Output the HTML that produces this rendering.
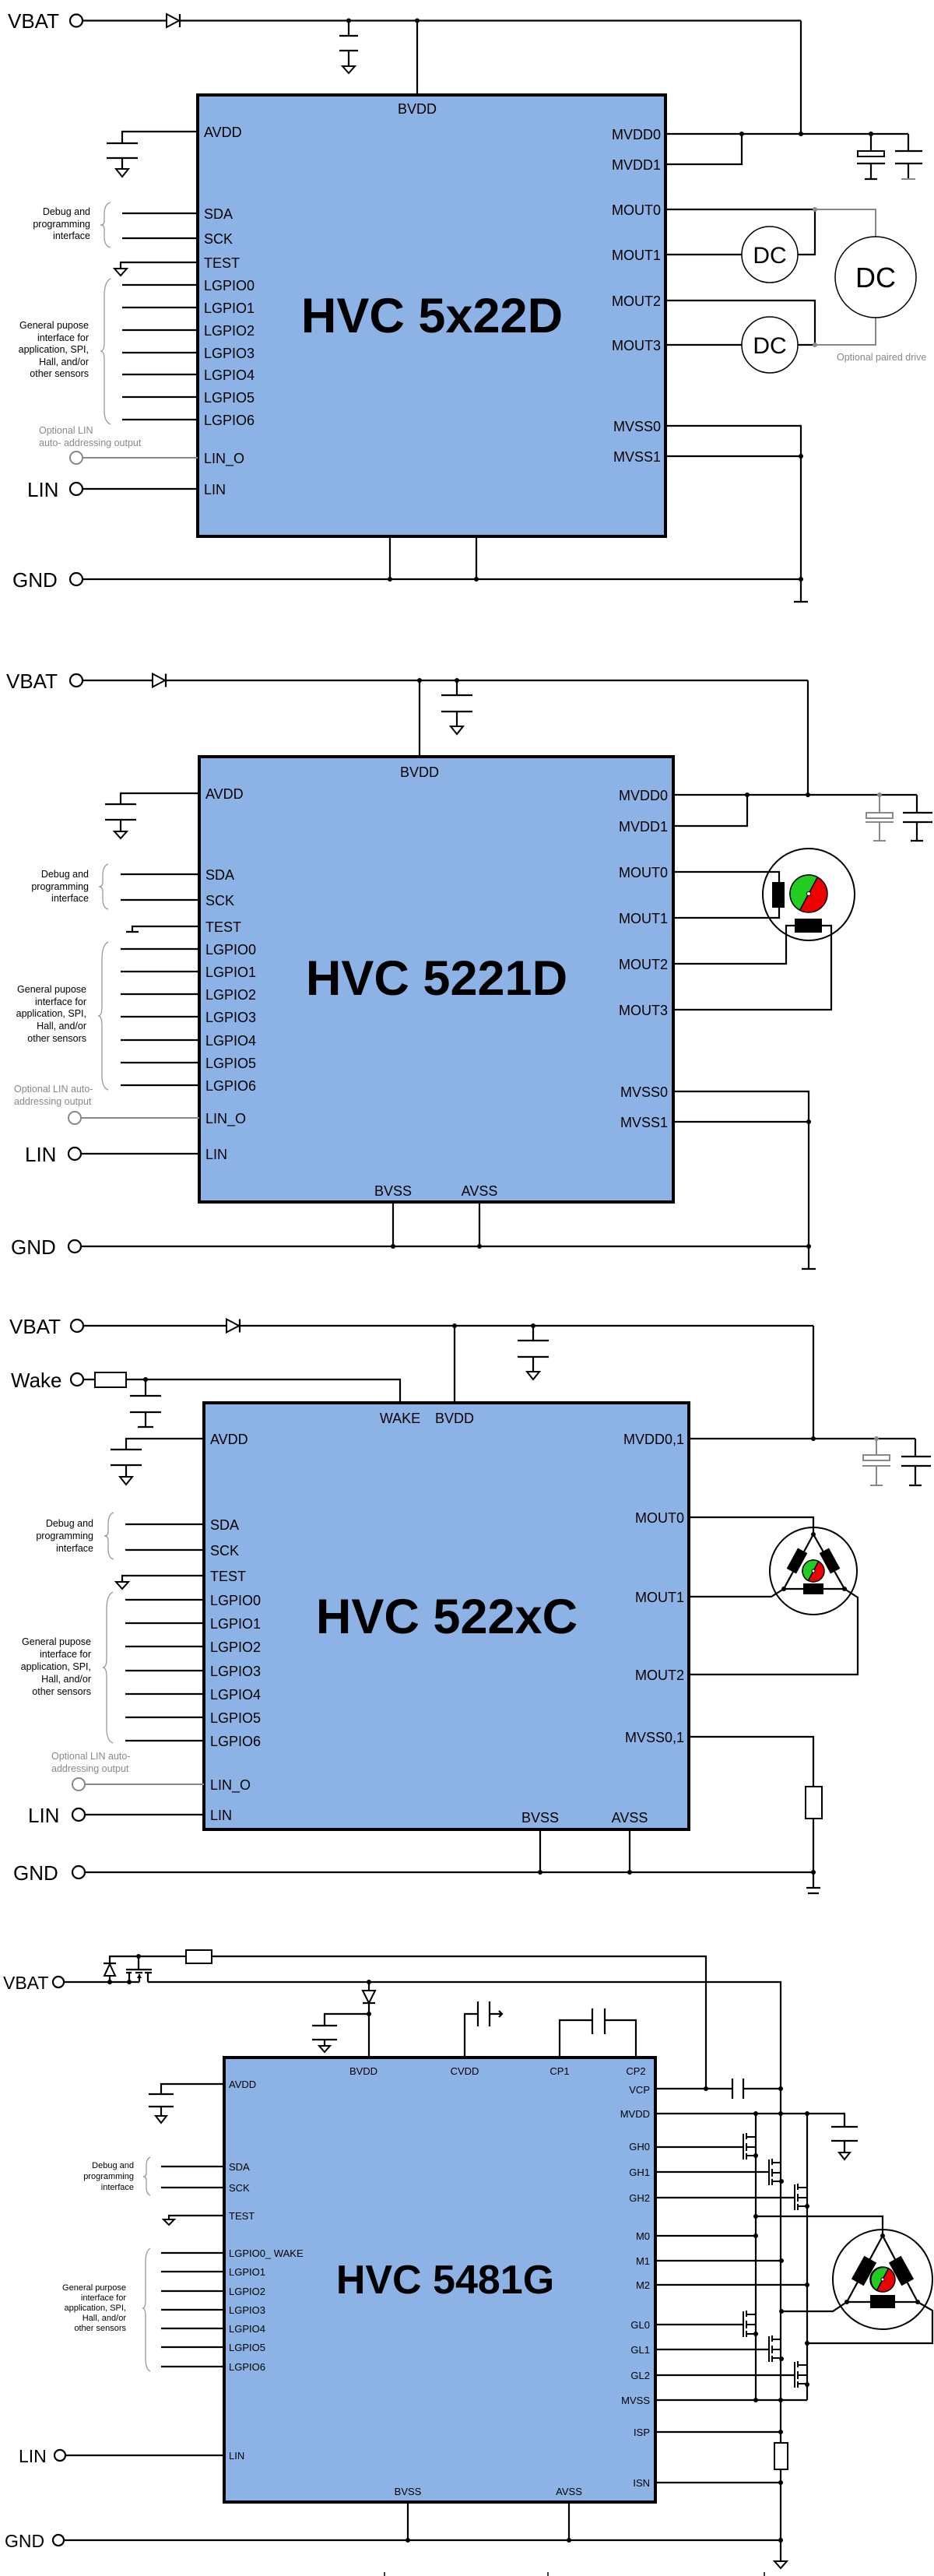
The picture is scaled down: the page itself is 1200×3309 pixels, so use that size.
<!DOCTYPE html>
<html><head><meta charset="utf-8"><style>
html,body{margin:0;padding:0;background:#fff}
svg{display:block}
text{font-family:"Liberation Sans",Arial,sans-serif;fill:#000}
.w{stroke:#000;stroke-width:2.2;fill:none}
.g{stroke:#888;stroke-width:2;fill:none}
.chip{fill:#8db3e6;stroke:#000;stroke-width:4}
.pl{font-size:18px}
.pr{font-size:18px;text-anchor:end}
.sm{font-size:13px}
.smr{font-size:13px;text-anchor:end}
.note{font-size:12.5px;text-anchor:end}
.gn{font-size:12.5px;fill:#888}
.big{font-size:26px}
.title{font-size:63px;font-weight:bold;text-anchor:middle}
.d{fill:#000}
.oc{fill:#fff;stroke:#000;stroke-width:2.2}
.br{stroke:#999;stroke-width:1.3;fill:none}
</style></head><body>
<svg width="1200" height="3309" viewBox="0 0 1200 3309" xmlns="http://www.w3.org/2000/svg">

<!-- ============ SECTION 1 ============ -->
<text x="10" y="36" class="big">VBAT</text>
<line class="w" x1="106" y1="26.5" x2="1029" y2="26.5"/>
<circle class="oc" cx="98" cy="26.5" r="8"/>
<polygon points="214,18 214,35 230,26.5" fill="#fff" stroke="#000" stroke-width="2"/>
<line class="w" x1="231" y1="18" x2="231" y2="35"/>
<circle class="d" cx="448" cy="26.5" r="3"/><circle class="d" cx="536" cy="26.5" r="3"/>
<path class="w" d="M448 26.5V46M436 46H460M436 65H460M448 65V85"/>
<polygon points="440,85 456,85 448,94" fill="#fff" stroke="#000" stroke-width="2"/>
<line class="w" x1="536" y1="26.5" x2="536" y2="122"/>
<line class="w" x1="1029" y1="26.5" x2="1029" y2="172"/>
<rect class="chip" x="254" y="122" width="601" height="567"/>
<text x="536" y="146" class="pl" text-anchor="middle">BVDD</text>
<text x="555" y="427" class="title">HVC 5x22D</text>
<path class="w" d="M254 169H157V184M137 184H177M137 203H177M157 203V217"/>
<polygon points="149,217 165,217 157,227" fill="#fff" stroke="#000" stroke-width="2"/>
<text x="262" y="176" class="pl">AVDD</text>
<path class="w" d="M157 274H254M157 306H254M157 366H254M157 395H254M157 424H254M157 453H254M157 481H254M157 510H254M157 539H254"/>
<path class="w" d="M254 337H155V345"/>
<polygon points="147,345 163,345 155,354" fill="#fff" stroke="#000" stroke-width="2"/>
<text x="262" y="281" class="pl">SDA</text><text x="262" y="313" class="pl">SCK</text><text x="262" y="344" class="pl">TEST</text>
<text x="262" y="373" class="pl">LGPIO0</text><text x="262" y="402" class="pl">LGPIO1</text><text x="262" y="431" class="pl">LGPIO2</text><text x="262" y="460" class="pl">LGPIO3</text><text x="262" y="488" class="pl">LGPIO4</text><text x="262" y="517" class="pl">LGPIO5</text><text x="262" y="546" class="pl">LGPIO6</text>
<text x="262" y="595" class="pl">LIN_O</text><text x="262" y="635" class="pl">LIN</text>
<path class="br" d="M142 260Q134 262 134 275V284Q134 289 129 289Q134 289 134 294V304Q134 316 142 318"/>
<text x="116" y="276" class="note">Debug and</text><text x="116" y="292" class="note">programming</text><text x="116" y="307" class="note">interface</text>
<path class="br" d="M142 358Q134 362 134 380V440Q134 451 129 451Q134 451 134 462V527Q134 542 142 545"/>
<text x="114" y="422" class="note">General pupose</text><text x="114" y="438" class="note">interface for</text><text x="114" y="453" class="note">application, SPI,</text><text x="114" y="469" class="note">Hall, and/or</text><text x="114" y="484" class="note">other sensors</text>
<text x="50" y="557" class="gn">Optional LIN</text><text x="50" y="573" class="gn">auto- addressing output</text>
<line class="g" x1="106" y1="588" x2="254" y2="588"/>
<circle cx="98" cy="588" r="8" fill="#fff" stroke="#888" stroke-width="2"/>
<text x="35" y="638" class="big">LIN</text>
<line class="w" x1="106" y1="628" x2="254" y2="628"/>
<circle class="oc" cx="98" cy="628" r="8"/>
<text x="16" y="754" class="big">GND</text>
<line class="w" x1="106" y1="744" x2="1029" y2="744"/>
<circle class="oc" cx="98" cy="744" r="8"/>
<path class="w" d="M501 689V744M612 689V744"/>
<circle class="d" cx="501" cy="744" r="3"/><circle class="d" cx="612" cy="744" r="3"/><circle class="d" cx="1029" cy="744" r="3"/>
<path class="w" d="M855 172H1167M855 211H953V172M855 547H1029V773M855 586H1029M1020 773H1038"/>
<circle class="d" cx="953" cy="172" r="3"/><circle class="d" cx="1029" cy="172" r="3"/><circle class="d" cx="1119" cy="172" r="3"/><circle class="d" cx="1029" cy="586" r="3"/>
<path class="w" d="M1119 172V194M1101 210H1137M1119 210V230M1111 230H1127"/>
<rect x="1102" y="194" width="34" height="7" fill="#fff" stroke="#000" stroke-width="2"/>
<path class="w" d="M1167 172V194M1150 194H1185M1150 210H1185M1167 210V230"/>
<line x1="1158" y1="230" x2="1176" y2="230" stroke="#888" stroke-width="2"/>
<text x="849" y="179" class="pr">MVDD0</text><text x="849" y="218" class="pr">MVDD1</text>
<text x="849" y="276" class="pr">MOUT0</text><text x="849" y="334" class="pr">MOUT1</text><text x="849" y="393" class="pr">MOUT2</text><text x="849" y="450" class="pr">MOUT3</text>
<text x="849" y="554" class="pr">MVSS0</text><text x="849" y="593" class="pr">MVSS1</text>
<path class="w" d="M855 269H1047V327H1025M855 327H953M855 386H1047V443H1025M855 443H953"/>
<path class="g" d="M1047 269H1125V304M1047 443H1125V408"/>
<circle cx="1047" cy="269" r="3" fill="#888"/><circle cx="1047" cy="443" r="3" fill="#888"/>
<circle cx="989" cy="327" r="36" fill="#fff" stroke="#000" stroke-width="1.5"/>
<circle cx="989" cy="443" r="36" fill="#fff" stroke="#000" stroke-width="1.5"/>
<circle cx="1125" cy="356" r="52" fill="#fff" stroke="#000" stroke-width="1.5"/>
<text x="989" y="338" font-size="30" text-anchor="middle">DC</text>
<text x="989" y="454" font-size="30" text-anchor="middle">DC</text>
<text x="1125" y="369" font-size="36" text-anchor="middle">DC</text>
<text x="1075" y="463" font-size="12.5" style="fill:#888">Optional paired drive</text>

<!-- ============ SECTION 2 ============ -->
<text x="8" y="884" class="big">VBAT</text>
<line class="w" x1="106" y1="874" x2="1038" y2="874"/>
<circle class="oc" cx="98" cy="874" r="8"/>
<polygon points="196,865.5 196,882.5 212,874" fill="#fff" stroke="#000" stroke-width="2"/>
<line class="w" x1="213" y1="865.5" x2="213" y2="882.5"/>
<circle class="d" cx="539" cy="874" r="3"/><circle class="d" cx="587" cy="874" r="3"/>
<path class="w" d="M587 874V893M567 893H607M567 914H607M587 914V933"/>
<polygon points="579,933 595,933 587,943" fill="#fff" stroke="#000" stroke-width="2"/>
<line class="w" x1="539" y1="874" x2="539" y2="972"/>
<line class="w" x1="1038" y1="874" x2="1038" y2="1021"/>
<rect class="chip" x="256" y="972" width="609" height="572"/>
<text x="539" y="998" class="pl" text-anchor="middle">BVDD</text>
<text x="561" y="1278" class="title">HVC 5221D</text>
<path class="w" d="M256 1019H155V1033M135 1033H175M135 1053H175M155 1053V1068"/>
<polygon points="147,1068 163,1068 155,1077" fill="#fff" stroke="#000" stroke-width="2"/>
<text x="264" y="1026" class="pl">AVDD</text>
<path class="w" d="M155 1123H256M155 1156H256M155 1219H256M155 1248H256M155 1277H256M155 1306H256M155 1336H256M155 1365H256M155 1394H256"/>
<path class="w" d="M256 1190H170V1197M162 1197H178"/>
<text x="264" y="1130" class="pl">SDA</text><text x="264" y="1163" class="pl">SCK</text><text x="264" y="1197" class="pl">TEST</text>
<text x="264" y="1226" class="pl">LGPIO0</text><text x="264" y="1255" class="pl">LGPIO1</text><text x="264" y="1284" class="pl">LGPIO2</text><text x="264" y="1313" class="pl">LGPIO3</text><text x="264" y="1343" class="pl">LGPIO4</text><text x="264" y="1372" class="pl">LGPIO5</text><text x="264" y="1401" class="pl">LGPIO6</text>
<text x="264" y="1443" class="pl">LIN_O</text><text x="264" y="1489" class="pl">LIN</text>
<path class="br" d="M139 1110Q132 1112 132 1125V1133Q132 1139 127 1139Q132 1139 132 1145V1155Q132 1166 139 1168"/>
<text x="114" y="1127" class="note">Debug and</text><text x="114" y="1143" class="note">programming</text><text x="114" y="1158" class="note">interface</text>
<path class="br" d="M139 1210Q131 1214 131 1232V1293Q131 1305 126 1305Q131 1305 131 1317V1382Q131 1397 139 1400"/>
<text x="111" y="1275" class="note">General pupose</text><text x="111" y="1291" class="note">interface for</text><text x="111" y="1306" class="note">application, SPI,</text><text x="111" y="1322" class="note">Hall, and/or</text><text x="111" y="1338" class="note">other sensors</text>
<text x="18" y="1403" class="gn">Optional LIN auto-</text><text x="18" y="1419" class="gn">addressing output</text>
<line class="g" x1="104" y1="1436" x2="256" y2="1436"/>
<circle cx="96" cy="1436" r="8" fill="#fff" stroke="#888" stroke-width="2"/>
<text x="32" y="1492" class="big">LIN</text>
<line class="w" x1="104" y1="1482" x2="256" y2="1482"/>
<circle class="oc" cx="96" cy="1482" r="8"/>
<text x="14" y="1611" class="big">GND</text>
<line class="w" x1="104" y1="1601" x2="1039" y2="1601"/>
<circle class="oc" cx="96" cy="1601" r="8"/>
<path class="w" d="M505 1544V1601M616 1544V1601"/>
<circle class="d" cx="505" cy="1601" r="3"/><circle class="d" cx="616" cy="1601" r="3"/><circle class="d" cx="1039" cy="1601" r="3"/>
<text x="505" y="1536" class="pl" text-anchor="middle">BVSS</text><text x="616" y="1536" class="pl" text-anchor="middle">AVSS</text>
<path class="w" d="M865 1021H1178M865 1061H960V1021M865 1402H1039V1630M865 1441H1039M1030 1630H1048"/>
<circle class="d" cx="960" cy="1021" r="3"/><circle class="d" cx="1038" cy="1021" r="3"/><circle class="d" cx="1039" cy="1441" r="3"/>
<circle cx="1130" cy="1021" r="3" fill="#888"/>
<path class="g" d="M1130 1021V1044M1112 1056H1148M1130 1056V1080M1122 1080H1138"/>
<rect x="1113" y="1044" width="34" height="7" fill="#fff" stroke="#888" stroke-width="2"/>
<path class="w" d="M1178 1021V1044M1160 1044H1198M1160 1056H1198M1178 1056V1080M1170 1080H1186"/>
<text x="858" y="1028" class="pr">MVDD0</text><text x="858" y="1068" class="pr">MVDD1</text>
<text x="858" y="1127" class="pr">MOUT0</text><text x="858" y="1186" class="pr">MOUT1</text><text x="858" y="1245" class="pr">MOUT2</text><text x="858" y="1304" class="pr">MOUT3</text>
<text x="858" y="1409" class="pr">MVSS0</text><text x="858" y="1448" class="pr">MVSS1</text>
<circle cx="1039" cy="1149" r="59" fill="#fff" stroke="#000" stroke-width="2"/>
<path class="w" d="M865 1120H1001V1133M865 1179H1001V1166M865 1238H1010V1189H1021M865 1297H1068V1189H1056"/>
<rect x="992" y="1133" width="16" height="33" fill="#000"/>
<rect x="1021" y="1180" width="35" height="18" fill="#000"/>
<circle cx="1039" cy="1148" r="24" fill="#e00" stroke="#000" stroke-width="1.5"/>
<path d="M1039 1148L1050.3 1126.8A24 24 0 0 0 1027.7 1169.2Z" fill="#2c2" stroke="#000" stroke-width="1.5"/>
<circle cx="1039" cy="1148" r="2.5" fill="#fff" stroke="#000" stroke-width="1"/>

<!-- ============ SECTION 3 ============ -->
<text x="12" y="1713" class="big">VBAT</text>
<line class="w" x1="107" y1="1703" x2="1045" y2="1703"/>
<circle class="oc" cx="99" cy="1703" r="8"/>
<polygon points="291,1694.5 291,1711.5 307,1703" fill="#fff" stroke="#000" stroke-width="2"/>
<line class="w" x1="308" y1="1694.5" x2="308" y2="1711.5"/>
<circle class="d" cx="584" cy="1703" r="3"/><circle class="d" cx="685" cy="1703" r="3"/>
<path class="w" d="M685 1703V1722M665 1722H705M665 1743H705M685 1743V1762"/>
<polygon points="677,1762 693,1762 685,1772" fill="#fff" stroke="#000" stroke-width="2"/>
<line class="w" x1="584" y1="1703" x2="584" y2="1802"/>
<line class="w" x1="1045" y1="1703" x2="1045" y2="1848"/>
<text x="14" y="1782" class="big">Wake</text>
<circle class="oc" cx="99" cy="1772" r="8"/>
<rect x="122" y="1763" width="40" height="19" fill="#fff" stroke="#000" stroke-width="2"/>
<path class="w" d="M107 1772H122M162 1772H514V1802M187 1772V1793M167 1793H207M167 1814H207M187 1814V1833M177 1833H197"/>
<circle class="d" cx="187" cy="1772" r="3"/>
<rect class="chip" x="262" y="1802" width="623" height="548"/>
<text x="514" y="1828" class="pl" text-anchor="middle">WAKE</text><text x="584" y="1828" class="pl" text-anchor="middle">BVDD</text>
<text x="574" y="2098" class="title">HVC 522xC</text>
<path class="w" d="M262 1848H162V1862M142 1862H182M142 1882H182M162 1882V1897"/>
<polygon points="154,1897 170,1897 162,1907" fill="#fff" stroke="#000" stroke-width="2"/>
<text x="270" y="1855" class="pl">AVDD</text>
<path class="w" d="M161 1958H262M161 1991H262M161 2055H262M161 2085H262M161 2115H262M161 2146H262M161 2176H262M161 2206H262M161 2236H262"/>
<path class="w" d="M262 2024H157V2032"/>
<polygon points="149,2032 165,2032 157,2041" fill="#fff" stroke="#000" stroke-width="2"/>
<text x="270" y="1965" class="pl">SDA</text><text x="270" y="1998" class="pl">SCK</text><text x="270" y="2031" class="pl">TEST</text>
<text x="270" y="2062" class="pl">LGPIO0</text><text x="270" y="2092" class="pl">LGPIO1</text><text x="270" y="2122" class="pl">LGPIO2</text><text x="270" y="2153" class="pl">LGPIO3</text><text x="270" y="2183" class="pl">LGPIO4</text><text x="270" y="2213" class="pl">LGPIO5</text><text x="270" y="2243" class="pl">LGPIO6</text>
<text x="270" y="2299" class="pl">LIN_O</text><text x="270" y="2338" class="pl">LIN</text>
<path class="br" d="M146 1943Q139 1945 139 1958V1967Q139 1973 134 1973Q139 1973 139 1979V1990Q139 2001 146 2003"/>
<text x="120" y="1961" class="note">Debug and</text><text x="120" y="1977" class="note">programming</text><text x="120" y="1993" class="note">interface</text>
<path class="br" d="M145 2045Q137 2049 137 2067V2130Q137 2142 132 2142Q137 2142 137 2154V2220Q137 2236 145 2239"/>
<text x="117" y="2113" class="note">General pupose</text><text x="117" y="2129" class="note">interface for</text><text x="117" y="2145" class="note">application, SPI,</text><text x="117" y="2161" class="note">Hall, and/or</text><text x="117" y="2177" class="note">other sensors</text>
<text x="66" y="2260" class="gn">Optional LIN auto-</text><text x="66" y="2276" class="gn">addressing output</text>
<line class="g" x1="109" y1="2292" x2="262" y2="2292"/>
<circle cx="101" cy="2292" r="8" fill="#fff" stroke="#888" stroke-width="2"/>
<text x="36" y="2341" class="big">LIN</text>
<line class="w" x1="109" y1="2331" x2="262" y2="2331"/>
<circle class="oc" cx="101" cy="2331" r="8"/>
<text x="17" y="2415" class="big">GND</text>
<line class="w" x1="109" y1="2405" x2="1045" y2="2405"/>
<circle class="oc" cx="101" cy="2405" r="8"/>
<path class="w" d="M694 2350V2405M809 2350V2405"/>
<circle class="d" cx="694" cy="2405" r="3"/><circle class="d" cx="809" cy="2405" r="3"/><circle class="d" cx="1045" cy="2405" r="3"/>
<text x="694" y="2341" class="pl" text-anchor="middle">BVSS</text><text x="809" y="2341" class="pl" text-anchor="middle">AVSS</text>
<path class="w" d="M885 1848H1176M885 2231H1045V2295M1045 2336V2425M1036 2425H1054M1038 2432H1052"/>
<rect x="1035" y="2295" width="21" height="41" fill="#fff" stroke="#000" stroke-width="2"/>
<circle class="d" cx="1045" cy="1848" r="3"/>
<circle cx="1126" cy="1848" r="3" fill="#888"/>
<path class="g" d="M1126 1848V1869M1108 1883H1144M1126 1883V1908M1118 1908H1134"/>
<rect x="1109" y="1869" width="34" height="7" fill="#fff" stroke="#888" stroke-width="2"/>
<path class="w" d="M1176 1848V1871M1158 1871H1196M1158 1883H1196M1176 1883V1908M1168 1908H1184"/>
<text x="879" y="1855" class="pr">MVDD0,1</text>
<text x="879" y="1956" class="pr">MOUT0</text><text x="879" y="2058" class="pr">MOUT1</text><text x="879" y="2158" class="pr">MOUT2</text>
<text x="879" y="2238" class="pr">MVSS0,1</text>
<circle cx="1045" cy="2018" r="56" fill="#fff" stroke="#000" stroke-width="2"/>
<path class="w" d="M885 1949H1045V1971M885 2051H991L1007 2041M885 2151H1102V2052L1085 2041M1045 1971L1007 2041H1085Z"/>
<circle class="d" cx="1045" cy="1971" r="3"/><circle class="d" cx="1007" cy="2041" r="3"/><circle class="d" cx="1085" cy="2041" r="3"/>
<rect x="-15" y="-7" width="30" height="14" fill="#000" transform="translate(1024,2005) rotate(118.5)"/>
<rect x="-15" y="-7" width="30" height="14" fill="#000" transform="translate(1066,2005) rotate(61.5)"/>
<rect x="1032" y="2034" width="26" height="14" fill="#000"/>
<circle cx="1045" cy="2018" r="14" fill="#e00" stroke="#000" stroke-width="1.5"/>
<path d="M1045 2018L1051.6 2005.6A14 14 0 0 0 1038.4 2030.4Z" fill="#2c2" stroke="#000" stroke-width="1.5"/>
<circle cx="1045" cy="2018" r="2" fill="#fff" stroke="#000" stroke-width="1"/>

<!-- ============ SECTION 4 ============ -->
<text x="4" y="2555" font-size="23">VBAT</text>
<circle class="oc" cx="75" cy="2546" r="7"/>
<path class="w" d="M82 2546H166M166 2546H179M190 2546H1003V3290"/>
<path class="w" d="M141 2546V2538M141 2522V2513H238M272 2513H907V2684M133 2522H149M178 2513V2530M162 2530H195M162 2534H169M174 2534H183M186 2534H195M166 2534V2546M179 2536V2546M190 2534V2546"/>
<polygon points="134,2538 148,2538 141,2523" fill="#fff" stroke="#000" stroke-width="2"/>
<polygon points="176,2541 182,2541 179,2536" fill="#000"/>
<circle class="d" cx="141" cy="2546" r="3"/><circle class="d" cx="166" cy="2546" r="3"/><circle class="d" cx="178" cy="2513" r="3"/>
<rect x="239" y="2505" width="33" height="17" fill="#fff" stroke="#000" stroke-width="2"/>
<circle class="d" cx="474" cy="2546" r="3"/>
<path class="w" d="M474 2546V2557M474 2573V2643M466 2573H482M474 2587H417V2602M401 2602H433M401 2620H433M417 2620V2628"/>
<polygon points="466,2557 482,2557 474,2573" fill="#fff" stroke="#000" stroke-width="2"/>
<circle class="d" cx="474" cy="2587" r="3"/>
<polygon points="410,2628 424,2628 417,2636" fill="#fff" stroke="#000" stroke-width="2"/>
<path class="w" d="M597 2643V2587H614M614 2571V2603M629 2571V2603M629 2587H645M641 2583L645 2587L641 2591"/>
<path class="w" d="M719 2643V2595H761M761 2580V2613M777 2580V2613M777 2595H817V2643"/>
<rect class="chip" x="288" y="2643" width="554" height="571"/>
<text x="467" y="2665" class="sm" text-anchor="middle">BVDD</text><text x="597" y="2665" class="sm" text-anchor="middle">CVDD</text><text x="719" y="2665" class="sm" text-anchor="middle">CP1</text><text x="817" y="2665" class="sm" text-anchor="middle">CP2</text>
<text x="572" y="2946" class="title" style="font-size:52px">HVC 5481G</text>
<path class="w" d="M288 2677H207V2690M191 2690H223M191 2706H223M207 2706V2718"/>
<polygon points="200,2718 214,2718 207,2727" fill="#fff" stroke="#000" stroke-width="2"/>
<text x="294" y="2682" class="sm">AVDD</text>
<path class="w" d="M207 2783H288M207 2810H288M207 2894H288M207 2918H288M207 2943H288M207 2967H288M207 2991H288M207 3015H288M207 3040H288M288 2846H217V2851"/>
<polygon points="210,2851 224,2851 217,2858" fill="#fff" stroke="#000" stroke-width="2"/>
<text x="294" y="2788" class="sm">SDA</text><text x="294" y="2815" class="sm">SCK</text><text x="294" y="2851" class="sm">TEST</text>
<text x="294" y="2899" class="sm">LGPIO0_ WAKE</text><text x="294" y="2923" class="sm">LGPIO1</text><text x="294" y="2948" class="sm">LGPIO2</text><text x="294" y="2972" class="sm">LGPIO3</text><text x="294" y="2996" class="sm">LGPIO4</text><text x="294" y="3020" class="sm">LGPIO5</text><text x="294" y="3045" class="sm">LGPIO6</text>
<text x="294" y="3159" class="sm">LIN</text>
<path class="br" d="M193 2771Q188 2773 188 2782V2791Q188 2796 184 2796Q188 2796 188 2801V2810Q188 2818 193 2820"/>
<text x="172" y="2785" font-size="11" text-anchor="end">Debug and</text><text x="172" y="2799" font-size="11" text-anchor="end">programming</text><text x="172" y="2813" font-size="11" text-anchor="end">interface</text>
<path class="br" d="M193 2888Q187 2892 187 2905V2955Q187 2965 183 2965Q187 2965 187 2975V3030Q187 3043 193 3046"/>
<text x="162" y="2942" font-size="11" text-anchor="end">General purpose</text><text x="162" y="2955" font-size="11" text-anchor="end">interface for</text><text x="162" y="2968" font-size="11" text-anchor="end">application, SPI,</text><text x="162" y="2981" font-size="11" text-anchor="end">Hall, and/or</text><text x="162" y="2994" font-size="11" text-anchor="end">other sensors</text>
<text x="24" y="3163" font-size="23">LIN</text>
<line class="w" x1="84" y1="3154" x2="288" y2="3154"/>
<circle class="oc" cx="77" cy="3154" r="7"/>
<text x="6" y="3272" font-size="23">GND</text>
<line class="w" x1="82" y1="3263" x2="1003" y2="3263"/>
<circle class="oc" cx="75" cy="3263" r="7"/>
<path class="w" d="M524 3214V3263M731 3214V3263"/>
<circle class="d" cx="524" cy="3263" r="3"/><circle class="d" cx="731" cy="3263" r="3"/><circle class="d" cx="1003" cy="3263" r="3"/>
<polygon points="995,3290 1011,3290 1003,3299" fill="#fff" stroke="#000" stroke-width="2"/>
<path d="M494 3304V3309M704 3304V3309M982 3304V3309" stroke="#000" stroke-width="1.5"/>
<text x="524" y="3205" class="sm" text-anchor="middle">BVSS</text><text x="731" y="3205" class="sm" text-anchor="middle">AVSS</text>
<path class="w" d="M842 2683H941M941 2670V2696M955 2670V2696M955 2683H1003"/>
<circle class="d" cx="907" cy="2683" r="3"/><circle class="d" cx="1003" cy="2683" r="3"/>
<path class="w" d="M842 2715H1085V2732M1068 2732H1102M1068 2750H1102M1085 2750V2765"/>
<polygon points="1078,2765 1092,2765 1085,2774" fill="#fff" stroke="#000" stroke-width="2"/>
<path class="w" d="M971 2715V3083M1037 2715V3083"/>
<circle class="d" cx="971" cy="2715" r="3"/><circle class="d" cx="1003" cy="2715" r="3"/><circle class="d" cx="1037" cy="2715" r="3"/>
<path class="w" d="M842 2758H955M842 2790H988M842 2823H1021M842 2986H955M842 3018H988M842 3051H1021"/>
<path class="w" d="M842 2872H971M842 2904H1004M842 2935H1037M842 3083H1037M842 3124H1003M842 3189H1003"/>
<circle class="d" cx="971" cy="2872" r="3"/><circle class="d" cx="1004" cy="2904" r="3"/><circle class="d" cx="1037" cy="2935" r="3"/>
<circle class="d" cx="971" cy="3083" r="3"/><circle class="d" cx="1003" cy="3083" r="3"/><circle class="d" cx="1003" cy="3124" r="3"/><circle class="d" cx="1003" cy="3189" r="3"/>
<rect x="995" y="3138" width="17" height="34" fill="#fff" stroke="#000" stroke-width="2"/>
<g stroke="#000" stroke-width="2" fill="none">
<path d="M955 2741V2774M959 2740V2748M959 2753V2763M959 2766V2774M959 2745H971M959 2758H971M959 2769H971"/>
<path d="M988 2774V2807M992 2773V2781M992 2786V2796M992 2799V2807M992 2778H1004M992 2791H1004M992 2802H1004"/>
<path d="M1021 2806V2839M1025 2805V2813M1025 2818V2828M1025 2831V2839M1025 2810H1037M1025 2823H1037M1025 2834H1037"/>
<path d="M955 2969V3002M959 2968V2976M959 2981V2991M959 2994V3002M959 2973H971M959 2986H971M959 2998H971"/>
<path d="M988 3001V3034M992 3000V3008M992 3013V3023M992 3026V3034M992 3005H1004M992 3018H1004M992 3029H1004"/>
<path d="M1021 3034V3067M1025 3033V3041M1025 3046V3056M1025 3059V3067M1025 3038H1037M1025 3051H1037M1025 3062H1037"/>
</g>
<circle class="d" cx="971" cy="2769" r="3"/><circle class="d" cx="1004" cy="2802" r="3"/><circle class="d" cx="1037" cy="2834" r="3"/>
<circle class="d" cx="971" cy="2998" r="3"/><circle class="d" cx="1004" cy="3030" r="3"/><circle class="d" cx="1037" cy="3063" r="3"/>
<text x="835" y="2689" class="smr">VCP</text><text x="835" y="2720" class="smr">MVDD</text>
<text x="835" y="2762" class="smr">GH0</text><text x="835" y="2795" class="smr">GH1</text><text x="835" y="2828" class="smr">GH2</text>
<text x="835" y="2877" class="smr">M0</text><text x="835" y="2909" class="smr">M1</text><text x="835" y="2940" class="smr">M2</text>
<text x="835" y="2991" class="smr">GL0</text><text x="835" y="3023" class="smr">GL1</text><text x="835" y="3056" class="smr">GL2</text>
<text x="835" y="3088" class="smr">MVSS</text><text x="835" y="3129" class="smr">ISP</text><text x="835" y="3194" class="smr">ISN</text>
<circle cx="1134" cy="2928" r="64" fill="#fff" stroke="#000" stroke-width="2"/>
<path class="w" d="M971 2847H1134V2872M1004 2969H1070L1088 2957M1037 3010H1198V2968L1179 2957M1134 2872L1088 2957H1179Z"/>
<circle class="d" cx="971" cy="2847" r="3"/><circle class="d" cx="1004" cy="2969" r="3"/><circle class="d" cx="1037" cy="3010" r="3"/>
<circle class="d" cx="1134" cy="2872" r="3"/><circle class="d" cx="1088" cy="2957" r="3"/><circle class="d" cx="1179" cy="2957" r="3"/>
<rect x="-17" y="-9" width="34" height="18" fill="#000" transform="translate(1110,2917) rotate(119)"/>
<rect x="-17" y="-9" width="34" height="18" fill="#000" transform="translate(1158,2917) rotate(61)"/>
<rect x="1118" y="2948" width="32" height="17" fill="#000"/>
<circle cx="1134" cy="2928" r="16" fill="#e00" stroke="#000" stroke-width="1.5"/>
<path d="M1134 2928L1141.5 2913.9A16 16 0 0 0 1126.5 2942.1Z" fill="#2c2" stroke="#000" stroke-width="1.5"/>
<circle cx="1134" cy="2928" r="2" fill="#fff" stroke="#000" stroke-width="1"/>
</svg>
</body></html>
